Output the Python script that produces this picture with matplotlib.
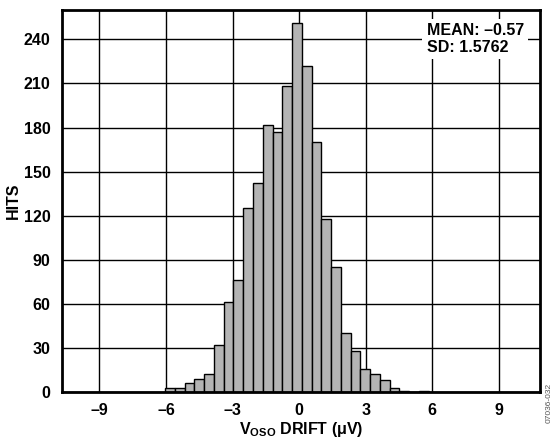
import numpy as np
import matplotlib
matplotlib.use("Agg")
import matplotlib.pyplot as plt

# histogram data
bin_start = -6.04
bin_width = 0.44
hits = [3, 3, 6, 9, 12, 32, 61, 76, 125, 142, 182, 177, 208, 251, 222,
        170, 118, 85, 40, 28, 16, 12, 8, 3, 1, 0, 1]
x_ticks = [-9, -6, -3, 0, 3, 6, 9]
y_ticks = [0, 30, 60, 90, 120, 150, 180, 210, 240]
mean_text = "MEAN: \u20130.57"
sd_text = "SD: 1.5762"

plt.rcParams['font.family'] = ['Liberation Sans', 'DejaVu Sans']
plt.rcParams['font.weight'] = 'bold'
plt.rcParams['mathtext.fontset'] = 'custom'
plt.rcParams['mathtext.rm'] = 'Liberation Sans:bold'
plt.rcParams['mathtext.it'] = 'Liberation Sans:bold'
plt.rcParams['mathtext.bf'] = 'Liberation Sans:bold'

fig = plt.figure(figsize=(5.56, 4.43), dpi=100)
ax = fig.add_axes([0.111, 0.1151, 0.86, 0.8623])

lefts = bin_start + bin_width * np.arange(len(hits))
ax.bar(lefts, hits, width=bin_width, align='edge', color='#b4b4b4',
       edgecolor='black', linewidth=1.0, zorder=3)

ax.set_xlim(-10.7, 10.85)
ax.set_ylim(0, 260)
ax.set_xticks(x_ticks)
ax.set_xticklabels([str(t).replace('-', '\u2013') for t in x_ticks])
ax.set_yticks(y_ticks)
ax.grid(True, color='black', linewidth=1.0, zorder=1)
ax.tick_params(length=0, labelsize=11.5, pad=8)
for s in ax.spines.values():
    s.set_linewidth(2.0)
    s.set_zorder(5)

ax.set_xlabel('V$_{\\mathrm{OSO}}$ DRIFT (\u03bcV)', fontsize=11.5, fontweight='bold')
ax.set_ylabel('HITS', fontsize=11.5, fontweight='bold')
ax.xaxis.set_label_coords(0.5, -0.098)
ax.yaxis.set_label_coords(-0.102, 0.5)
ax.xaxis.label.set_va('center')
ax.yaxis.label.set_va('center')

ax.text(0.763, 0.924, mean_text + "\n" + sd_text, transform=ax.transAxes,
        fontsize=11.5, fontweight='bold', va='center', ha='left', linespacing=1.15,
        bbox=dict(facecolor='white', edgecolor='none', pad=3), zorder=6)

fig.text(0.987, 0.09, "07036-032", rotation=90, fontsize=6,
         color='#555555', ha='center', va='center', fontweight='normal')

fig.savefig("out.png", dpi=100)
